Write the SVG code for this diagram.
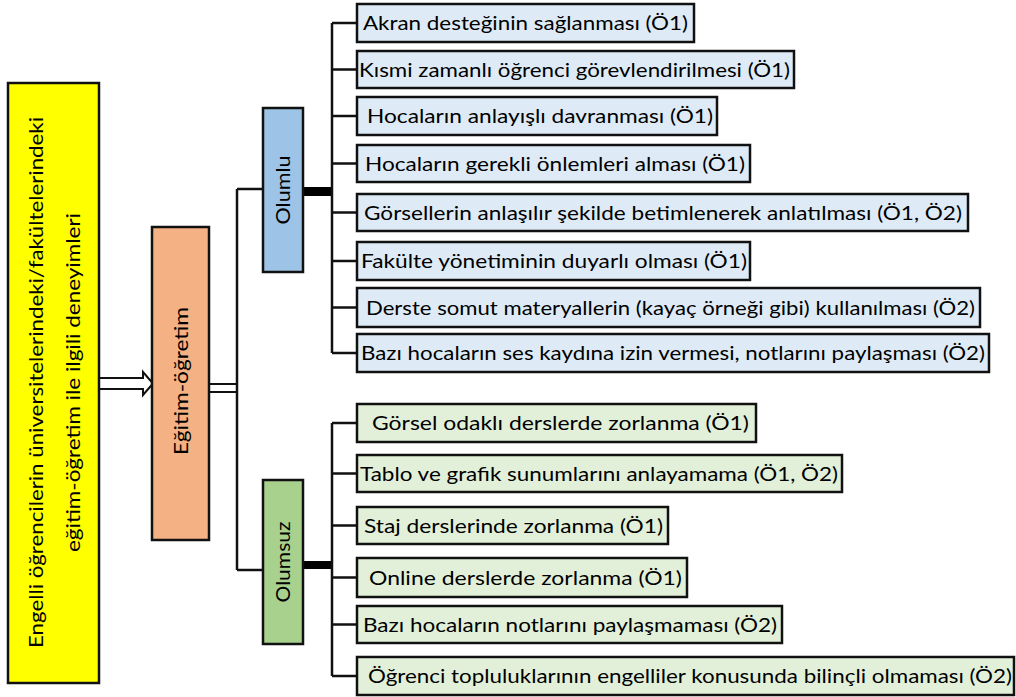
<svg xmlns="http://www.w3.org/2000/svg" width="1016" height="697" viewBox="0 0 1016 697">
  <style>
    .box { stroke: #111; stroke-width: 2.5; }
    .root { fill: #FFFF00; }
    .theme { fill: #F4B183; }
    .pos { fill: #9DC3E6; }
    .neg { fill: #A9D18E; }
    .pos-item { fill: #DEEBF7; }
    .neg-item { fill: #E2F0D9; }
    .lbl { font-family: Lato, "Open Sans", "Noto Sans", sans-serif; font-size: 20px; fill: #000; }
    .mid { text-anchor: middle; }
    .wire { fill: none; stroke: #111; stroke-width: 2.5; }
    .bar { fill: #000; }
    .hollow { fill: #fff; stroke: #111; stroke-width: 2; }
  </style>

  <rect width="1016" height="697" fill="#fff"/>

  <!-- connectors -->
  <g id="connectors">
    <!-- hollow arrow from the root box to the theme box -->
    <polygon class="hollow" points="99,378 143,378 143,372 153,383.5 143,395 143,389 99,389"/>
    <!-- double line from the theme box to the category bus -->
    <rect class="hollow" x="209" y="384" width="28" height="8"/>
    <path class="wire" d="M237,189 V570 M237,189 H263 M237,570 H263"/>

    <!-- positive branch -->
    <rect class="bar" x="303" y="187" width="29" height="9"/>
    <path class="wire" d="M332,23 V353 M332,23 H357 M332,69.5 H357 M332,116 H357 M332,163.5 H357 M332,212.5 H357 M332,261 H357 M332,307.5 H357 M332,353 H357"/>

    <!-- negative branch -->
    <rect class="bar" x="303" y="561" width="29" height="8"/>
    <path class="wire" d="M332,423 V676 M332,423 H357 M332,473.5 H357 M332,525.5 H357 M332,577.5 H357 M332,624.5 H357 M332,676 H357"/>
  </g>

  <!-- root -->
  <g id="root">
    <rect class="box root" x="8" y="83" width="91" height="600"/>
    <text class="lbl mid" transform="translate(43,382.5) rotate(-90)" textLength="531" lengthAdjust="spacingAndGlyphs">Engelli öğrencilerin üniversitelerindeki/fakültelerindeki</text>
    <text class="lbl mid" transform="translate(80,382.5) rotate(-90)" textLength="339" lengthAdjust="spacingAndGlyphs">eğitim-öğretim ile ilgili deneyimleri</text>
  </g>

  <!-- theme -->
  <g id="theme">
    <rect class="box theme" x="152" y="227" width="57" height="313"/>
    <text class="lbl mid" transform="translate(188,381) rotate(-90)" textLength="148" lengthAdjust="spacingAndGlyphs">Eğitim-öğretim</text>
  </g>

  <!-- categories -->
  <g id="olumlu">
    <rect class="box pos" x="263" y="108" width="40" height="164"/>
    <text class="lbl mid" transform="translate(290,190) rotate(-90)" textLength="69" lengthAdjust="spacingAndGlyphs">Olumlu</text>
  </g>
  <g id="olumsuz">
    <rect class="box neg" x="263" y="480" width="40" height="164"/>
    <text class="lbl mid" transform="translate(290,562) rotate(-90)" textLength="81" lengthAdjust="spacingAndGlyphs">Olumsuz</text>
  </g>

  <!-- positive items -->
  <g id="p1">
    <rect class="box pos-item" x="357" y="4" width="337" height="38"/>
    <text class="lbl" x="363" y="30" textLength="325" lengthAdjust="spacingAndGlyphs">Akran desteğinin sağlanması (Ö1)</text>
  </g>
  <g id="p2">
    <rect class="box pos-item" x="357" y="51" width="437" height="37"/>
    <text class="lbl" x="359" y="76.5" textLength="431" lengthAdjust="spacingAndGlyphs">Kısmi zamanlı öğrenci görevlendirilmesi (Ö1)</text>
  </g>
  <g id="p3">
    <rect class="box pos-item" x="357" y="97" width="360" height="38"/>
    <text class="lbl" x="367" y="123" textLength="346" lengthAdjust="spacingAndGlyphs">Hocaların anlayışlı davranması (Ö1)</text>
  </g>
  <g id="p4">
    <rect class="box pos-item" x="357" y="145" width="393" height="37"/>
    <text class="lbl" x="365" y="170.5" textLength="380" lengthAdjust="spacingAndGlyphs">Hocaların gerekli önlemleri alması (Ö1)</text>
  </g>
  <g id="p5">
    <rect class="box pos-item" x="357" y="194" width="611" height="37"/>
    <text class="lbl" x="364" y="219.5" textLength="598" lengthAdjust="spacingAndGlyphs">Görsellerin anlaşılır şekilde betimlenerek anlatılması (Ö1, Ö2)</text>
  </g>
  <g id="p6">
    <rect class="box pos-item" x="357" y="242" width="393" height="38"/>
    <text class="lbl" x="361" y="268" textLength="386" lengthAdjust="spacingAndGlyphs">Fakülte yönetiminin duyarlı olması (Ö1)</text>
  </g>
  <g id="p7">
    <rect class="box pos-item" x="357" y="288" width="623" height="39"/>
    <text class="lbl" x="366" y="314.5" textLength="609" lengthAdjust="spacingAndGlyphs">Derste somut materyallerin (kayaç örneği gibi) kullanılması (Ö2)</text>
  </g>
  <g id="p8">
    <rect class="box pos-item" x="357" y="334" width="632" height="38"/>
    <text class="lbl" x="361" y="360" textLength="624" lengthAdjust="spacingAndGlyphs">Bazı hocaların ses kaydına izin vermesi, notlarını paylaşması (Ö2)</text>
  </g>

  <!-- negative items -->
  <g id="n1">
    <rect class="box neg-item" x="357" y="404" width="399" height="38"/>
    <text class="lbl" x="372" y="430" textLength="377" lengthAdjust="spacingAndGlyphs">Görsel odaklı derslerde zorlanma (Ö1)</text>
  </g>
  <g id="n2">
    <rect class="box neg-item" x="357" y="455" width="485" height="37"/>
    <text class="lbl" x="360" y="480.5" textLength="478" lengthAdjust="spacingAndGlyphs">Tablo ve grafik sunumlarını anlayamama (Ö1, Ö2)</text>
  </g>
  <g id="n3">
    <rect class="box neg-item" x="357" y="507" width="311" height="37"/>
    <text class="lbl" x="364" y="532.5" textLength="299" lengthAdjust="spacingAndGlyphs">Staj derslerinde zorlanma (Ö1)</text>
  </g>
  <g id="n4">
    <rect class="box neg-item" x="357" y="558" width="330" height="39"/>
    <text class="lbl" x="369" y="584.5" textLength="313" lengthAdjust="spacingAndGlyphs">Online derslerde zorlanma (Ö1)</text>
  </g>
  <g id="n5">
    <rect class="box neg-item" x="357" y="606" width="425" height="37"/>
    <text class="lbl" x="363" y="631.5" textLength="414" lengthAdjust="spacingAndGlyphs">Bazı hocaların notlarını paylaşmaması (Ö2)</text>
  </g>
  <g id="n6">
    <rect class="box neg-item" x="357" y="657" width="657" height="38"/>
    <text class="lbl" x="368" y="683" textLength="644" lengthAdjust="spacingAndGlyphs">Öğrenci topluluklarının engelliler konusunda bilinçli olmaması (Ö2)</text>
  </g>
</svg>
